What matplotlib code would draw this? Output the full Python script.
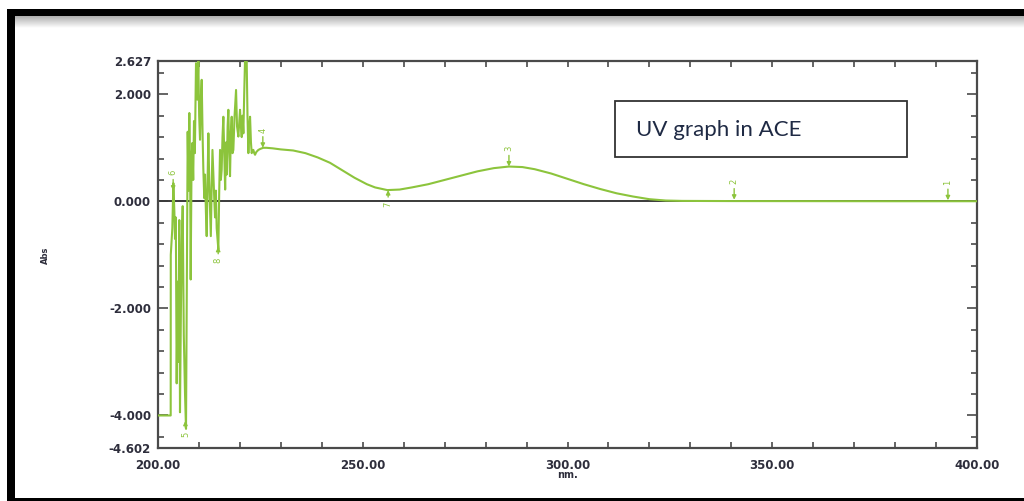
import numpy as np
import matplotlib
matplotlib.use("Agg")
import matplotlib.pyplot as plt
from matplotlib.patches import Rectangle
from matplotlib.ticker import MultipleLocator, FixedLocator

# ---------------- data ----------------
wavelength_nm = [
    200.0, 203.1, 203.12, 203.5, 203.75, 204.0, 204.15, 204.35, 204.56, 204.8,
    205.0, 205.2, 205.37, 205.6, 205.8, 206.03, 206.3, 206.6, 206.84, 207.0,
    207.25, 207.45, 207.65, 207.85, 207.98, 208.2, 208.39, 208.6, 208.79, 209.0,
    209.28, 209.6, 209.85, 210.05, 210.26, 210.5, 210.67, 210.9, 211.07, 211.3,
    211.48, 211.7, 211.89, 212.1, 212.3, 212.5, 212.7, 212.9, 213.11, 213.3,
    213.52, 213.75, 213.93, 214.13, 214.33, 214.74, 214.95, 215.15, 215.35, 215.55,
    215.75, 215.96, 216.2, 216.4, 216.6, 216.78, 217.0, 217.18, 217.4, 217.59,
    217.8, 218.0, 218.2, 218.4, 218.7, 219.06, 219.3, 219.63, 219.85, 220.03,
    220.25, 220.44, 220.65, 220.85, 221.05, 221.25, 221.66, 221.85, 222.07, 222.3,
    222.48, 222.7, 222.88, 223.1, 223.29, 223.5, 223.7, 224.0, 224.5, 225.0,
    225.7, 226.5, 228.0, 230.0, 233.0, 236.0, 239.0, 242.0, 245.0, 248.0,
    251.0, 253.0, 256.0, 259.0, 262.0, 266.0, 270.0, 274.0, 278.0, 282.0,
    285.7, 289.0, 292.0, 296.0, 300.0, 304.0, 308.0, 312.0, 316.0, 320.0,
    324.0, 328.0, 340.0, 360.0, 380.0, 400.0,
]
absorbance = [
    -4.0, -4.0, -1.0, -0.5, 0.34, -0.2, -0.7, -0.3, -3.4, -1.5,
    -3.0, -0.35, -3.94, -2.0, -0.8, -0.09, -2.5, -3.6, -4.25, -2.2,
    1.3, 0.2, 1.65, 0.5, -1.46, 0.8, 1.09, 0.4, 1.5, 0.9,
    2.58, 1.9, 2.627, 1.6, 1.15, 2.0, 2.27, 1.2, 0.6, 0.06,
    0.5, -0.2, -0.65, 0.3, 1.27, 0.4, -0.1, -0.65, 0.3, 0.96,
    0.5, 0.03, -0.3, 0.2, -0.5, -0.9, 0.2, 0.96, 0.4, 0.59,
    1.2, 1.58, 0.8, 0.22, 1.1, 0.5, 1.4, 1.71, 0.9, 0.47,
    1.3, 1.58, 0.9, 0.96, 1.6, 2.08, 1.4, 1.21, 1.5, 1.71,
    1.4, 1.2, 1.6, 1.27, 2.0, 2.627, 2.627, 1.6, 0.9, 1.4,
    1.58, 1.1, 0.9, 0.96, 0.96, 0.9, 0.87, 0.92, 0.96, 0.98,
    1.0, 1.0, 0.99, 0.97, 0.95, 0.90, 0.82, 0.72, 0.58, 0.44,
    0.32, 0.26, 0.21, 0.22, 0.26, 0.32, 0.40, 0.48, 0.56, 0.62,
    0.65, 0.64, 0.60, 0.52, 0.42, 0.32, 0.23, 0.15, 0.09, 0.04,
    0.015, 0.008, 0.005, 0.003, 0.002, 0.002,
]

peak_labels = ["1", "2", "3", "4", "5", "6", "7", "8"]
peak_nm = [392.9, 340.7, 285.7, 225.6, 206.7, 203.7, 256.2, 214.7]
peak_abs = [0.02, 0.03, 0.65, 1.0, -4.1, 0.2, 0.21, -0.85]
peak_up = [True, True, True, True, False, True, False, False]

y_tick_values = [2.627, 2.0, 0.0, -2.0, -4.0, -4.602]
y_tick_labels = ["2.627", "2.000", "0.000", "-2.000", "-4.000", "-4.602"]
x_tick_values = [200, 250, 300, 350, 400]
x_tick_labels = ["200.00", "250.00", "300.00", "350.00", "400.00"]

# ---------------- figure ----------------
W, H = 1024, 501
fig = plt.figure(figsize=(W / 100, H / 100), dpi=100)
fig.patch.set_facecolor("white")

ax = fig.add_axes([158 / W, (H - 447.7) / H, 819 / W, 387 / H])

green = "#8cc43c"
label_col = "#2e2e3c"
spine_col = "#4a4a4a"

ax.axhline(0, color="#3a3a3a", lw=1.4, zorder=2)
ax.plot(wavelength_nm, absorbance, color=green, lw=1.5, zorder=3)

ax.set_xlim(200, 400)
ax.set_ylim(-4.602, 2.627)

ax.xaxis.set_major_locator(FixedLocator(x_tick_values))
ax.set_xticklabels(x_tick_labels)
ax.xaxis.set_minor_locator(MultipleLocator(10))
ax.yaxis.set_major_locator(FixedLocator(y_tick_values))
ax.set_yticklabels(y_tick_labels)
ax.yaxis.set_minor_locator(MultipleLocator(0.4))

for s in ax.spines.values():
    s.set_color(spine_col)
    s.set_linewidth(1.6)

ax.tick_params(axis="both", which="both", direction="in", color=spine_col,
               top=True, right=True, width=1.2)
ax.tick_params(axis="x", which="major", length=4, pad=8)
ax.tick_params(axis="x", which="minor", length=4)
ax.tick_params(axis="y", which="major", length=7, pad=5)
ax.tick_params(axis="y", which="minor", length=4)
for lab in ax.get_xticklabels() + ax.get_yticklabels():
    lab.set_fontsize(8.5)
    lab.set_fontweight("bold")
    lab.set_color(label_col)
    lab.set_family("DejaVu Sans")

ax.set_xlabel("nm.", fontsize=7, fontweight="bold", color=label_col, labelpad=-1)
fig.text(45 / W, (H - 255) / H, "Abs", rotation=90, fontsize=6, color=label_col,
         ha="center", va="center", fontweight="bold")

# peak markers
for lab, x, y, up in zip(peak_labels, peak_nm, peak_abs, peak_up):
    off = 11 if up else -8
    ax.annotate(lab, xy=(x, y), xytext=(0, off), textcoords="offset points",
                ha="center", va="bottom" if up else "top", rotation=90,
                fontsize=6, color=green, zorder=4,
                arrowprops=dict(arrowstyle="-|>", color=green, lw=1.0,
                                mutation_scale=6, shrinkA=1, shrinkB=0))

# text box
fig.add_artist(Rectangle((615 / W, (H - 157) / H), 292 / W, 56 / H,
                         transform=fig.transFigure, fill=False,
                         edgecolor="#333333", lw=1.3))
fig.text(636 / W, (H - 130) / H, "UV graph in ACE", fontsize=16,
         family="Lato", color="#1f2a44", ha="left", va="center")

# frame decoration
grad = fig.add_axes([15 / W, (H - 28) / H, 1 - 15 / W, 12 / H])
g = np.linspace(0.68, 1.0, 50).reshape(-1, 1)
grad.imshow(g, aspect="auto", cmap="gray", vmin=0, vmax=1,
            extent=[0, 1, 0, 1], origin="upper")
grad.axis("off")
fig.add_artist(Rectangle((7 / W, (H - 16) / H), 1 - 7 / W, 7 / H,
                         transform=fig.transFigure, color="black", lw=0))
fig.add_artist(Rectangle((7 / W, 0), 8 / W, (H - 9) / H,
                         transform=fig.transFigure, color="black", lw=0))
fig.add_artist(Rectangle((7 / W, 0), 1 - 7 / W, 3.5 / H,
                         transform=fig.transFigure, color="black", lw=0))

fig.savefig("out.png", dpi=100)
